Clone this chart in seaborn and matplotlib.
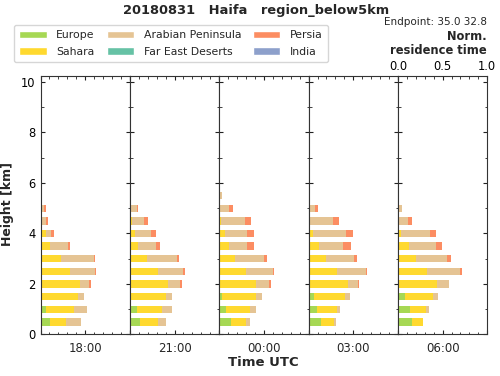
import pandas as pd
import matplotlib
matplotlib.use("Agg")
import matplotlib.pyplot as plt
from matplotlib.patches import Patch
from matplotlib.ticker import MultipleLocator
import seaborn as sns

# Data (normalised residence time per height level)
TIMES = ["18:00", "21:00", "00:00", "03:00", "06:00"]
REGIONS = ["Europe", "Sahara", "Arabian Peninsula", "Far East Deserts", "Persia", "India"]
HEIGHTS = [0.5, 1.0, 1.5, 2.0, 2.5, 3.0, 3.5, 4.0, 4.5, 5.0, 5.5, 8.5, 9.0]

# one row per time, one value per height in HEIGHTS
EUROPE = [
    [0.11, 0.056, 0.01, 0, 0, 0, 0.005, 0, 0, 0, 0, 0, 0],
    [0.11, 0.075, 0.015, 0, 0, 0, 0, 0, 0, 0, 0, 0, 0],
    [0.127, 0.075, 0.026, 0, 0, 0.005, 0, 0, 0, 0, 0, 0, 0],
    [0.138, 0.097, 0.06, 0, 0, 0, 0, 0, 0, 0, 0, 0, 0],
    [0.16, 0.13, 0.075, 0, 0, 0, 0, 0, 0, 0, 0, 0, 0],
]
SAHARA = [
    [0.18, 0.32, 0.41, 0.44, 0.335, 0.235, 0.10, 0.056, 0.02, 0, 0, 0, 0],
    [0.205, 0.29, 0.395, 0.425, 0.313, 0.194, 0.093, 0.063, 0.02, 0, 0, 0, 0],
    [0.168, 0.268, 0.39, 0.417, 0.298, 0.17, 0.11, 0.063, 0.02, 0, 0, 0, 0],
    [0.145, 0.223, 0.346, 0.436, 0.32, 0.20, 0.12, 0.045, 0.015, 0, 0, 0, 0],
    [0.123, 0.182, 0.32, 0.436, 0.328, 0.205, 0.123, 0.03, 0, 0, 0, 0, 0],
]
ARABIAN = [
    [0.16, 0.14, 0.07, 0.10, 0.27, 0.36, 0.20, 0.067, 0.045, 0.037, 0.022, 0, 0],
    [0.093, 0.11, 0.063, 0.14, 0.28, 0.328, 0.194, 0.168, 0.138, 0.075, 0.015, 0, 0],
    [0.048, 0.067, 0.067, 0.14, 0.305, 0.33, 0.205, 0.25, 0.268, 0.108, 0.026, 0, 0],
    [0.022, 0.03, 0.063, 0.12, 0.317, 0.31, 0.268, 0.372, 0.26, 0.075, 0.018, 0, 0],
    [0, 0.034, 0.052, 0.134, 0.372, 0.343, 0.305, 0.324, 0.11, 0.045, 0.01, 0, 0],
]
FAR_EAST = [
    [0] * 13,
    [0] * 13,
    [0] * 13,
    [0] * 13,
    [0] * 13,
]
PERSIA = [
    [0, 0, 0, 0.02, 0.02, 0.01, 0.026, 0.026, 0.022, 0.02, 0, 0, 0],
    [0, 0, 0, 0.02, 0.02, 0.026, 0.048, 0.063, 0.045, 0.02, 0, 0, 0],
    [0, 0, 0, 0.02, 0.011, 0.026, 0.07, 0.075, 0.067, 0.041, 0, 0, 0],
    [0, 0, 0, 0.011, 0.02, 0.037, 0.082, 0.082, 0.067, 0.03, 0, 0, 0],
    [0, 0, 0, 0, 0.022, 0.045, 0.067, 0.075, 0.048, 0, 0, 0, 0],
]
INDIA = [
    [0, 0, 0, 0, 0, 0, 0, 0, 0, 0, 0, 0.01, 0],
    [0, 0, 0, 0, 0, 0, 0, 0, 0, 0, 0, 0, 0.008],
    [0] * 13,
    [0] * 13,
    [0] * 13,
]

sns.set_theme(style="ticks")
plt.rcParams.update({
    "font.family": ["DejaVu Sans"],
    "font.size": 8.5,
    "axes.linewidth": 0.8,
    "axes.edgecolor": "#333333",
})

pal = sns.color_palette("Set2")
COLORS = {
    "Europe": pal[4],
    "Sahara": pal[5],
    "Arabian Peninsula": pal[6],
    "Far East Deserts": pal[0],
    "Persia": pal[1],
    "India": pal[2],
}

# long-form table
rows = []
for arr, region in zip([EUROPE, SAHARA, ARABIAN, FAR_EAST, PERSIA, INDIA], REGIONS):
    for t, vals in zip(TIMES, arr):
        for h, v in zip(HEIGHTS, vals):
            rows.append({"time": t, "region": region, "height": h, "value": v})
df = pd.DataFrame(rows)
df["region"] = pd.Categorical(df["region"], categories=REGIONS, ordered=True)
df = df.sort_values(["time", "height", "region"])
df["cum"] = df.groupby(["time", "height"], observed=True)["value"].cumsum()

fig, axes = plt.subplots(1, 5, figsize=(5, 3.76), dpi=100, sharey=True)
plt.subplots_adjust(left=0.081, right=0.9746, bottom=0.1104, top=0.7987, wspace=0)

for i, (ax, t) in enumerate(zip(axes, TIMES)):
    sub = df[df["time"] == t]
    # draw cumulative totals back to front so the stack shows through
    for region in reversed(REGIONS):
        d = sub[sub["region"] == region]
        sns.barplot(data=d, x="cum", y="height", orient="y", native_scale=True,
                    color=COLORS[region], width=0.58, errorbar=None,
                    linewidth=0, saturation=1, ax=ax)
    ax.set_xlim(0, 1)
    ax.set_ylim(0, 10.25)
    ax.set_xlabel("")
    ax.set_ylabel("")
    ax.xaxis.set_major_locator(MultipleLocator(0.5))
    ax.xaxis.set_minor_locator(MultipleLocator(0.1))
    ax.yaxis.set_major_locator(MultipleLocator(2))
    ax.yaxis.set_minor_locator(MultipleLocator(1))
    ax.tick_params(which="both", direction="in", top=True, right=True,
                   bottom=True, left=True, labelbottom=False, labelsize=8.3,
                   colors="#222222", labelcolor="black")
    ax.tick_params(which="major", length=3, width=0.8)
    ax.tick_params(which="minor", length=1.8, width=0.6)
    ax.tick_params(axis="x", labeltop=(i == 4), pad=2)
    if i > 0:
        ax.tick_params(axis="y", labelleft=False)
    ax.text(0.5, -0.056, t, transform=ax.transAxes, ha="center", va="center",
            fontsize=8.5)

fig.text(0.512, 0.972, "20180831   Haifa   region_below5km",
         ha="center", va="center", fontsize=9.4, fontweight="bold")
fig.text(0.974, 1 - 22 / 376, "Endpoint: 35.0 32.8", ha="right", va="center",
         fontsize=7.5)
fig.text(0.974, 1 - 43.5 / 376, "Norm.\nresidence time", ha="right", va="center",
         multialignment="right", fontsize=8.3, fontweight="bold", linespacing=1.1)
fig.text(8 / 500, 1 - 204 / 376, "Height [km]", rotation=90, ha="center",
         va="center", fontsize=9, fontweight="bold")
fig.text(263 / 500, 1 - 363 / 376, "Time UTC", ha="center", va="center",
         fontsize=9.5, fontweight="bold")

handles = [Patch(facecolor=COLORS[r], label=r) for r in REGIONS]
fig.legend(handles=handles, loc="upper left", bbox_to_anchor=(14 / 500, 1 - 25 / 376),
           borderaxespad=0, ncol=3, fontsize=7.8, frameon=True, handlelength=2.5,
           handleheight=0.7, columnspacing=1.1, handletextpad=0.9, borderpad=0.5,
           labelspacing=0.6, edgecolor="#cccccc", fancybox=True)

fig.savefig("out.png", dpi=100)
